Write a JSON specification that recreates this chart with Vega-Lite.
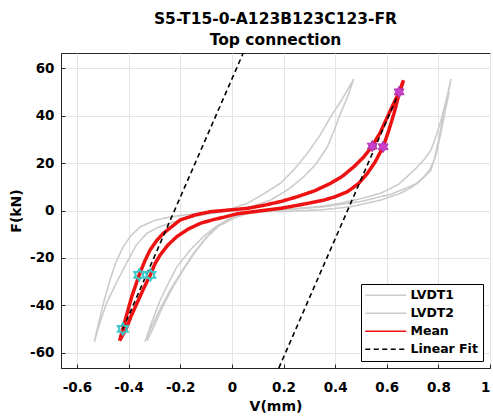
{
  "$schema": "https://vega.github.io/schema/vega-lite/v6.json",
  "width": 429,
  "height": 315,
  "autosize": {"type": "none"},
  "padding": {"left": 61, "top": 53, "right": 3, "bottom": 49},
  "title": {
    "text": ["S5-T15-0-A123B123C123-FR", "Top connection"],
    "font": "DejaVu Sans",
    "fontSize": 15.5,
    "fontWeight": "bold",
    "color": "#000000",
    "anchor": "middle",
    "lineHeight": 21,
    "offset": 5
  },
  "config": {
    "view": {"stroke": "#262626", "strokeWidth": 1},
    "axis": {
      "labelFont": "DejaVu Sans",
      "labelFontSize": 13.5,
      "labelFontWeight": "bold",
      "labelColor": "#000000",
      "titleFont": "DejaVu Sans",
      "titleFontSize": 14,
      "titleFontWeight": "bold",
      "titleColor": "#000000",
      "domainColor": "#262626",
      "tickColor": "#262626",
      "gridColor": "#e4e4e4",
      "gridWidth": 1
    },
    "legend": {
      "labelFont": "DejaVu Sans",
      "labelFontSize": 12.5,
      "labelFontWeight": "bold",
      "labelColor": "#000000"
    }
  },
  "datasets": {
    "lines": [
      {"s": "LVDT1", "c": "L1a", "i": 1, "x": -0.533, "y": -55.4},
      {"s": "LVDT1", "c": "L1a", "i": 2, "x": -0.515, "y": -47},
      {"s": "LVDT1", "c": "L1a", "i": 3, "x": -0.495, "y": -38},
      {"s": "LVDT1", "c": "L1a", "i": 4, "x": -0.472, "y": -29.3},
      {"s": "LVDT1", "c": "L1a", "i": 5, "x": -0.448, "y": -21.5},
      {"s": "LVDT1", "c": "L1a", "i": 6, "x": -0.421, "y": -15.3},
      {"s": "LVDT1", "c": "L1a", "i": 7, "x": -0.39, "y": -10.5},
      {"s": "LVDT1", "c": "L1a", "i": 8, "x": -0.355, "y": -6.9},
      {"s": "LVDT1", "c": "L1a", "i": 9, "x": -0.3, "y": -4.2},
      {"s": "LVDT1", "c": "L1a", "i": 10, "x": -0.239, "y": -2.7},
      {"s": "LVDT1", "c": "L1a", "i": 11, "x": -0.15, "y": -1.4},
      {"s": "LVDT1", "c": "L1a", "i": 12, "x": -0.05, "y": -0.2},
      {"s": "LVDT1", "c": "L1a", "i": 13, "x": 0.0, "y": 0.8},
      {"s": "LVDT1", "c": "L1a", "i": 14, "x": 0.059, "y": 3},
      {"s": "LVDT1", "c": "L1a", "i": 15, "x": 0.12, "y": 6.8},
      {"s": "LVDT1", "c": "L1a", "i": 16, "x": 0.188, "y": 11.5},
      {"s": "LVDT1", "c": "L1a", "i": 17, "x": 0.24, "y": 17.2},
      {"s": "LVDT1", "c": "L1a", "i": 18, "x": 0.292, "y": 24.1},
      {"s": "LVDT1", "c": "L1a", "i": 19, "x": 0.34, "y": 31.5},
      {"s": "LVDT1", "c": "L1a", "i": 20, "x": 0.383, "y": 39.6},
      {"s": "LVDT1", "c": "L1a", "i": 21, "x": 0.43, "y": 47.5},
      {"s": "LVDT1", "c": "L1a", "i": 22, "x": 0.472, "y": 55.5},
      {"s": "LVDT1", "c": "L1a", "i": 23, "x": 0.45, "y": 48.5},
      {"s": "LVDT1", "c": "L1a", "i": 24, "x": 0.421, "y": 41},
      {"s": "LVDT1", "c": "L1a", "i": 25, "x": 0.395, "y": 33.5},
      {"s": "LVDT1", "c": "L1a", "i": 26, "x": 0.37, "y": 26.9},
      {"s": "LVDT1", "c": "L1a", "i": 27, "x": 0.325, "y": 19.5},
      {"s": "LVDT1", "c": "L1a", "i": 28, "x": 0.279, "y": 14.3},
      {"s": "LVDT1", "c": "L1a", "i": 29, "x": 0.22, "y": 9},
      {"s": "LVDT1", "c": "L1a", "i": 30, "x": 0.15, "y": 4.4},
      {"s": "LVDT1", "c": "L1a", "i": 31, "x": 0.08, "y": 1.8},
      {"s": "LVDT1", "c": "L1a", "i": 32, "x": 0.0, "y": 0.0},
      {"s": "LVDT1", "c": "L1a", "i": 33, "x": -0.06, "y": -1.0},
      {"s": "LVDT1", "c": "L1a", "i": 34, "x": -0.12, "y": -2.0},
      {"s": "LVDT1", "c": "L1a", "i": 35, "x": -0.18, "y": -3.4},
      {"s": "LVDT1", "c": "L1a", "i": 36, "x": -0.239, "y": -5.3},
      {"s": "LVDT1", "c": "L1a", "i": 37, "x": -0.29, "y": -7.3},
      {"s": "LVDT1", "c": "L1a", "i": 38, "x": -0.329, "y": -9.6},
      {"s": "LVDT1", "c": "L1a", "i": 39, "x": -0.37, "y": -14.5},
      {"s": "LVDT1", "c": "L1a", "i": 40, "x": -0.407, "y": -22},
      {"s": "LVDT1", "c": "L1a", "i": 41, "x": -0.445, "y": -30},
      {"s": "LVDT1", "c": "L1a", "i": 42, "x": -0.485, "y": -39},
      {"s": "LVDT1", "c": "L1a", "i": 43, "x": -0.51, "y": -47},
      {"s": "LVDT1", "c": "L1a", "i": 44, "x": -0.533, "y": -55.4},

      {"s": "LVDT2", "c": "L2a", "i": 1, "x": -0.336, "y": -55.4},
      {"s": "LVDT2", "c": "L2a", "i": 2, "x": -0.31, "y": -47},
      {"s": "LVDT2", "c": "L2a", "i": 3, "x": -0.278, "y": -38},
      {"s": "LVDT2", "c": "L2a", "i": 4, "x": -0.245, "y": -30.5},
      {"s": "LVDT2", "c": "L2a", "i": 5, "x": -0.213, "y": -23.8},
      {"s": "LVDT2", "c": "L2a", "i": 6, "x": -0.16, "y": -16.5},
      {"s": "LVDT2", "c": "L2a", "i": 7, "x": -0.11, "y": -11},
      {"s": "LVDT2", "c": "L2a", "i": 8, "x": -0.065, "y": -7},
      {"s": "LVDT2", "c": "L2a", "i": 9, "x": -0.019, "y": -4},
      {"s": "LVDT2", "c": "L2a", "i": 10, "x": 0.05, "y": -1.5},
      {"s": "LVDT2", "c": "L2a", "i": 11, "x": 0.15, "y": 0.0},
      {"s": "LVDT2", "c": "L2a", "i": 12, "x": 0.25, "y": 0.8},
      {"s": "LVDT2", "c": "L2a", "i": 13, "x": 0.35, "y": 1.8},
      {"s": "LVDT2", "c": "L2a", "i": 14, "x": 0.421, "y": 3.1},
      {"s": "LVDT2", "c": "L2a", "i": 15, "x": 0.5, "y": 5.0},
      {"s": "LVDT2", "c": "L2a", "i": 16, "x": 0.577, "y": 7.3},
      {"s": "LVDT2", "c": "L2a", "i": 17, "x": 0.645, "y": 11},
      {"s": "LVDT2", "c": "L2a", "i": 18, "x": 0.706, "y": 17},
      {"s": "LVDT2", "c": "L2a", "i": 19, "x": 0.745, "y": 21.5},
      {"s": "LVDT2", "c": "L2a", "i": 20, "x": 0.771, "y": 25.5},
      {"s": "LVDT2", "c": "L2a", "i": 21, "x": 0.79, "y": 31},
      {"s": "LVDT2", "c": "L2a", "i": 22, "x": 0.81, "y": 38},
      {"s": "LVDT2", "c": "L2a", "i": 23, "x": 0.83, "y": 46.5},
      {"s": "LVDT2", "c": "L2a", "i": 24, "x": 0.849, "y": 55.5},
      {"s": "LVDT2", "c": "L2a", "i": 25, "x": 0.836, "y": 48},
      {"s": "LVDT2", "c": "L2a", "i": 26, "x": 0.823, "y": 42.4},
      {"s": "LVDT2", "c": "L2a", "i": 27, "x": 0.805, "y": 32},
      {"s": "LVDT2", "c": "L2a", "i": 28, "x": 0.784, "y": 21.3},
      {"s": "LVDT2", "c": "L2a", "i": 29, "x": 0.765, "y": 17},
      {"s": "LVDT2", "c": "L2a", "i": 30, "x": 0.745, "y": 14.3},
      {"s": "LVDT2", "c": "L2a", "i": 31, "x": 0.7, "y": 10},
      {"s": "LVDT2", "c": "L2a", "i": 32, "x": 0.654, "y": 7.3},
      {"s": "LVDT2", "c": "L2a", "i": 33, "x": 0.577, "y": 4.4},
      {"s": "LVDT2", "c": "L2a", "i": 34, "x": 0.46, "y": 1.6},
      {"s": "LVDT2", "c": "L2a", "i": 35, "x": 0.35, "y": 0.3},
      {"s": "LVDT2", "c": "L2a", "i": 36, "x": 0.2, "y": -0.4},
      {"s": "LVDT2", "c": "L2a", "i": 37, "x": 0.1, "y": -0.5},
      {"s": "LVDT2", "c": "L2a", "i": 38, "x": 0.045, "y": -0.9},
      {"s": "LVDT2", "c": "L2a", "i": 39, "x": -0.01, "y": -3.5},
      {"s": "LVDT2", "c": "L2a", "i": 40, "x": -0.058, "y": -6.9},
      {"s": "LVDT2", "c": "L2a", "i": 41, "x": -0.1, "y": -11.5},
      {"s": "LVDT2", "c": "L2a", "i": 42, "x": -0.148, "y": -18},
      {"s": "LVDT2", "c": "L2a", "i": 43, "x": -0.19, "y": -25},
      {"s": "LVDT2", "c": "L2a", "i": 44, "x": -0.239, "y": -33.5},
      {"s": "LVDT2", "c": "L2a", "i": 45, "x": -0.28, "y": -42},
      {"s": "LVDT2", "c": "L2a", "i": 46, "x": -0.31, "y": -49},
      {"s": "LVDT2", "c": "L2a", "i": 47, "x": -0.336, "y": -55.4},

      {"s": "LVDT2", "c": "L2b", "i": 1, "x": 0.842, "y": 50},
      {"s": "LVDT2", "c": "L2b", "i": 2, "x": 0.83, "y": 44},
      {"s": "LVDT2", "c": "L2b", "i": 3, "x": 0.812, "y": 34},
      {"s": "LVDT2", "c": "L2b", "i": 4, "x": 0.792, "y": 24},
      {"s": "LVDT2", "c": "L2b", "i": 5, "x": 0.771, "y": 17},
      {"s": "LVDT2", "c": "L2b", "i": 6, "x": 0.72, "y": 11.5},
      {"s": "LVDT2", "c": "L2b", "i": 7, "x": 0.62, "y": 7},
      {"s": "LVDT2", "c": "L2b", "i": 8, "x": 0.5, "y": 3.8},
      {"s": "LVDT2", "c": "L2b", "i": 9, "x": 0.35, "y": 1.5},
      {"s": "LVDT2", "c": "L2b", "i": 10, "x": 0.2, "y": 0.3},
      {"s": "LVDT2", "c": "L2b", "i": 11, "x": 0.08, "y": -0.8},
      {"s": "LVDT2", "c": "L2b", "i": 12, "x": 0.02, "y": -2.6},
      {"s": "LVDT2", "c": "L2b", "i": 13, "x": -0.05, "y": -6.5},
      {"s": "LVDT2", "c": "L2b", "i": 14, "x": -0.095, "y": -11},
      {"s": "LVDT2", "c": "L2b", "i": 15, "x": -0.142, "y": -17.5},
      {"s": "LVDT2", "c": "L2b", "i": 16, "x": -0.185, "y": -24.5},
      {"s": "LVDT2", "c": "L2b", "i": 17, "x": -0.232, "y": -33},
      {"s": "LVDT2", "c": "L2b", "i": 18, "x": -0.272, "y": -41.5},
      {"s": "LVDT2", "c": "L2b", "i": 19, "x": -0.3, "y": -48.5},
      {"s": "LVDT2", "c": "L2b", "i": 20, "x": -0.328, "y": -55},

      {"s": "Mean", "c": "M", "i": 1, "x": -0.435, "y": -55},
      {"s": "Mean", "c": "M", "i": 2, "x": -0.4225, "y": -50},
      {"s": "Mean", "c": "M", "i": 3, "x": -0.405, "y": -43},
      {"s": "Mean", "c": "M", "i": 4, "x": -0.388, "y": -36.4},
      {"s": "Mean", "c": "M", "i": 5, "x": -0.359, "y": -27.2},
      {"s": "Mean", "c": "M", "i": 6, "x": -0.338, "y": -21.5},
      {"s": "Mean", "c": "M", "i": 7, "x": -0.317, "y": -16.7},
      {"s": "Mean", "c": "M", "i": 8, "x": -0.29, "y": -12.5},
      {"s": "Mean", "c": "M", "i": 9, "x": -0.265, "y": -9.6},
      {"s": "Mean", "c": "M", "i": 10, "x": -0.2, "y": -4.0},
      {"s": "Mean", "c": "M", "i": 11, "x": -0.14, "y": -1.8},
      {"s": "Mean", "c": "M", "i": 12, "x": -0.083, "y": -0.5},
      {"s": "Mean", "c": "M", "i": 13, "x": 0.0, "y": 0.3},
      {"s": "Mean", "c": "M", "i": 14, "x": 0.06, "y": 0.9},
      {"s": "Mean", "c": "M", "i": 15, "x": 0.124, "y": 2.2},
      {"s": "Mean", "c": "M", "i": 16, "x": 0.19, "y": 3.8},
      {"s": "Mean", "c": "M", "i": 17, "x": 0.253, "y": 5.8},
      {"s": "Mean", "c": "M", "i": 18, "x": 0.32, "y": 8.3},
      {"s": "Mean", "c": "M", "i": 19, "x": 0.383, "y": 11.5},
      {"s": "Mean", "c": "M", "i": 20, "x": 0.43, "y": 14.6},
      {"s": "Mean", "c": "M", "i": 21, "x": 0.473, "y": 18.5},
      {"s": "Mean", "c": "M", "i": 22, "x": 0.51, "y": 22.5},
      {"s": "Mean", "c": "M", "i": 23, "x": 0.544, "y": 27.2},
      {"s": "Mean", "c": "M", "i": 24, "x": 0.575, "y": 33},
      {"s": "Mean", "c": "M", "i": 25, "x": 0.603, "y": 39.6},
      {"s": "Mean", "c": "M", "i": 26, "x": 0.628, "y": 45.5},
      {"s": "Mean", "c": "M", "i": 27, "x": 0.648, "y": 50},
      {"s": "Mean", "c": "M", "i": 28, "x": 0.665, "y": 55},
      {"s": "Mean", "c": "M", "i": 29, "x": 0.645, "y": 48},
      {"s": "Mean", "c": "M", "i": 30, "x": 0.628, "y": 41},
      {"s": "Mean", "c": "M", "i": 31, "x": 0.607, "y": 33.5},
      {"s": "Mean", "c": "M", "i": 32, "x": 0.586, "y": 26.9},
      {"s": "Mean", "c": "M", "i": 33, "x": 0.555, "y": 20.5},
      {"s": "Mean", "c": "M", "i": 34, "x": 0.525, "y": 15.7},
      {"s": "Mean", "c": "M", "i": 35, "x": 0.49, "y": 11.3},
      {"s": "Mean", "c": "M", "i": 36, "x": 0.447, "y": 7.9},
      {"s": "Mean", "c": "M", "i": 37, "x": 0.4, "y": 5.8},
      {"s": "Mean", "c": "M", "i": 38, "x": 0.357, "y": 4.4},
      {"s": "Mean", "c": "M", "i": 39, "x": 0.27, "y": 2.5},
      {"s": "Mean", "c": "M", "i": 40, "x": 0.188, "y": 0.9},
      {"s": "Mean", "c": "M", "i": 41, "x": 0.1, "y": -0.3},
      {"s": "Mean", "c": "M", "i": 42, "x": 0.02, "y": -1.4},
      {"s": "Mean", "c": "M", "i": 43, "x": -0.03, "y": -2.8},
      {"s": "Mean", "c": "M", "i": 44, "x": -0.07, "y": -3.8},
      {"s": "Mean", "c": "M", "i": 45, "x": -0.122, "y": -5.4},
      {"s": "Mean", "c": "M", "i": 46, "x": -0.17, "y": -7.9},
      {"s": "Mean", "c": "M", "i": 47, "x": -0.213, "y": -11},
      {"s": "Mean", "c": "M", "i": 48, "x": -0.248, "y": -14.6},
      {"s": "Mean", "c": "M", "i": 49, "x": -0.278, "y": -18.8},
      {"s": "Mean", "c": "M", "i": 50, "x": -0.298, "y": -22.5},
      {"s": "Mean", "c": "M", "i": 51, "x": -0.316, "y": -27.2},
      {"s": "Mean", "c": "M", "i": 52, "x": -0.34, "y": -32.5},
      {"s": "Mean", "c": "M", "i": 53, "x": -0.365, "y": -38.5},
      {"s": "Mean", "c": "M", "i": 54, "x": -0.39, "y": -44.5},
      {"s": "Mean", "c": "M", "i": 55, "x": -0.41, "y": -50},
      {"s": "Mean", "c": "M", "i": 56, "x": -0.435, "y": -55},

      {"s": "Linear Fit", "c": "F1", "i": 1, "x": -0.4225, "y": -50},
      {"s": "Linear Fit", "c": "F1", "i": 2, "x": 0.044, "y": 66.5},
      {"s": "Linear Fit", "c": "F2", "i": 1, "x": 0.182, "y": -66.5},
      {"s": "Linear Fit", "c": "F2", "i": 2, "x": 0.648, "y": 50}
    ],
    "pts": [
      {"x": 0.544, "y": 27.2},
      {"x": 0.586, "y": 26.9},
      {"x": 0.648, "y": 50.1},
      {"x": -0.359, "y": -27.2},
      {"x": -0.316, "y": -27.2},
      {"x": -0.4225, "y": -50}
    ]
  },
  "encoding": {
    "x": {
      "field": "x",
      "type": "quantitative",
      "scale": {"domain": [-0.662, 1], "nice": false, "zero": false},
      "axis": {
        "title": "V(mm)",
        "values": [-0.6, -0.4, -0.2, 0, 0.2, 0.4, 0.6, 0.8, 1],
        "labelExpr": "'' + datum.value",
        "grid": true,
        "tickSize": -4,
        "labelPadding": 16,
        "titlePadding": 6
      }
    },
    "y": {
      "field": "y",
      "type": "quantitative",
      "scale": {"domain": [-66.5, 66.5], "nice": false, "zero": false},
      "axis": {
        "title": "F(kN)",
        "values": [-60, -40, -20, 0, 20, 40, 60],
        "labelExpr": "'' + datum.value",
        "grid": true,
        "tickSize": -4,
        "labelPadding": 11,
        "titlePadding": 6
      }
    }
  },
  "layer": [
    {
      "data": {"name": "lines"},
      "transform": [{"filter": "datum.s == 'LVDT1' || datum.s == 'LVDT2'"}],
      "mark": {"type": "line", "strokeWidth": 1.6, "clip": true},
      "encoding": {
        "color": {
          "field": "s", "type": "nominal",
          "scale": {"domain": ["LVDT1", "LVDT2", "Mean", "Linear Fit"], "range": ["#cccccc", "#cccccc", "#ee1111", "#000000"]},
          "legend": {
            "title": null,
            "orient": "none",
            "legendX": 300,
            "legendY": 231,
            "direction": "vertical",
            "strokeColor": "#000000",
            "fillColor": "#ffffff",
            "padding": 5,
            "rowPadding": 5,
            "symbolType": "M-3.5,0H17",
            "symbolSize": 16,
            "symbolStrokeWidth": 1.3,
            "labelOffset": 32
          }
        },
        "strokeDash": {
          "field": "s", "type": "nominal",
          "scale": {"domain": ["LVDT1", "LVDT2", "Mean", "Linear Fit"], "range": [[1, 0], [1, 0], [1, 0], [5, 3.5]]},
          "legend": null
        },
        "detail": {"field": "c"},
        "order": {"field": "i", "type": "quantitative"}
      }
    },
    {
      "data": {"name": "lines"},
      "transform": [{"filter": "datum.s == 'Mean'"}],
      "mark": {"type": "line", "strokeWidth": 3.5, "clip": true},
      "encoding": {
        "color": {"field": "s", "type": "nominal"},
        "strokeDash": {"field": "s", "type": "nominal"},
        "detail": {"field": "c"},
        "order": {"field": "i", "type": "quantitative"}
      }
    },
    {
      "data": {"name": "lines"},
      "transform": [{"filter": "datum.s == 'Linear Fit'"}],
      "mark": {"type": "line", "strokeWidth": 1.6, "clip": true},
      "encoding": {
        "color": {"field": "s", "type": "nominal"},
        "strokeDash": {"field": "s", "type": "nominal"},
        "detail": {"field": "c"},
        "order": {"field": "i", "type": "quantitative"}
      }
    },
    {
      "data": {"name": "pts"},
      "transform": [{"filter": "datum.y > 0"}],
      "mark": {
        "type": "point",
        "shape": "M0,-1L0.2887,-0.5L0.866,-0.5L0.5774,0L0.866,0.5L0.2887,0.5L0,1L-0.2887,0.5L-0.866,0.5L-0.5774,0L-0.866,-0.5L-0.2887,-0.5Z",
        "size": 130,
        "filled": true,
        "fill": "#c93fc9",
        "stroke": "#b030b0",
        "strokeWidth": 1,
        "opacity": 1
      },
      "encoding": {}
    },
    {
      "data": {"name": "pts"},
      "transform": [{"filter": "datum.y < 0"}],
      "mark": {
        "type": "point",
        "shape": "M0,-1L0.2887,-0.5L0.866,-0.5L0.5774,0L0.866,0.5L0.2887,0.5L0,1L-0.2887,0.5L-0.866,0.5L-0.5774,0L-0.866,-0.5L-0.2887,-0.5Z",
        "size": 130,
        "filled": false,
        "stroke": "#3cc8c8",
        "strokeWidth": 2,
        "opacity": 1
      },
      "encoding": {}
    }
  ]
}
